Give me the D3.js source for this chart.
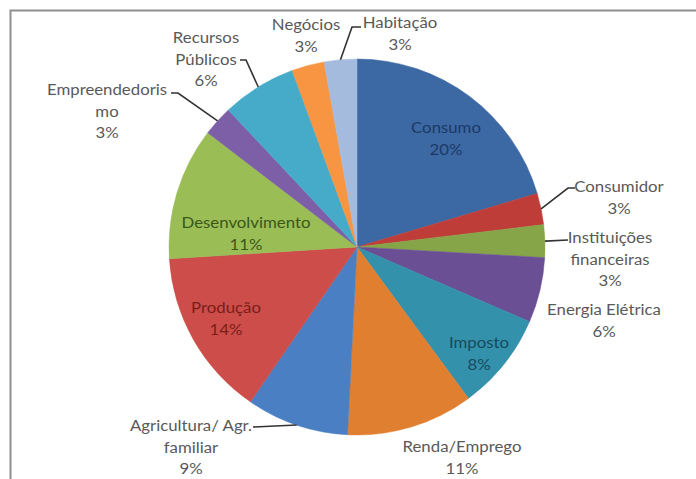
<!DOCTYPE html>
<html>
<head>
<meta charset="utf-8">
<script src="https://cdn.jsdelivr.net/npm/d3@7"></script>
<style>
  html, body { margin: 0; padding: 0; background: #fff; }
  svg { display: block; }
  text { font-family: Lato, "Open Sans", sans-serif; }
</style>
</head>
<body>
<svg id="chart" width="696" height="479"></svg>
<script>
// Subjects, in clockwise order from 12 o'clock
const categories = [
  "Consumo", "Consumidor", "Instituições financeiras", "Energia Elétrica",
  "Imposto", "Renda/Emprego", "Agricultura/ Agr. familiar", "Produção",
  "Desenvolvimento", "Empreendedorismo", "Recursos Públicos", "Negócios", "Habitação"
];
// Share of each subject (%)
const values = [20.4, 2.7, 2.8, 5.6, 8.4, 10.9, 8.8, 14.4, 11.4, 2.6, 6.4, 2.8, 2.8];

const sliceColors = [
  "#3c68a3", "#bf3d38", "#86a548", "#6b4f95", "#3391ab", "#e07f30", "#4b7fc4",
  "#cc4d49", "#9bbd56", "#7c5fa6", "#46abc8", "#f79543", "#a4bbdd"
];

// Label layout: text block position relative to the pie centre, line breaks,
// whether the label sits on the slice, and optional leader elbow.
const labelLayout = [
  { lines: ["Consumo"],                 dx:  89, dy: -119, inside: true, fill: "#1c3a66" },
  { lines: ["Consumidor"],              dx: 262, dy:  -60, elbow: [211, -59], end: 218 },
  { lines: ["Instituições", "financeiras"], dx: 253, dy: -9, elbow: [211, -7], end: 211 },
  { lines: ["Energia Elétrica"],        dx: 247, dy:   63 },
  { lines: ["Imposto"],                 dx: 122, dy:   96, inside: true, fill: "#174b5c" },
  { lines: ["Renda/Emprego"],           dx: 105, dy:  200 },
  { lines: ["Agricultura/ Agr.", "familiar"], dx: -166, dy: 179, elbow: [-104, 180], end: -104 },
  { lines: ["Produção"],                dx: -131, dy:   61, inside: true, fill: "#7a1e1b" },
  { lines: ["Desenvolvimento"],         dx: -111, dy:  -24, inside: true, fill: "#3a5716" },
  { lines: ["Empreendedoris", "mo"],    dx: -250, dy: -157, elbow: [-179, -154], end: -186 },
  { lines: ["Recursos", "Públicos"],    dx: -151, dy: -209, elbow: [-111, -187], end: -117 },
  { lines: ["Negócios"],                dx:  -51, dy: -222 },
  { lines: ["Habitação"],               dx:   43, dy: -224, elbow: [-5, -220], end: 4 }
];

const width = 696, height = 479;
const cx = 357, cy = 247, radius = 188;
const lineHeight = 21.5;
const fontSize = 15;
const stretch = 1.12;   // the labels are set slightly wide

const svg = d3.select("#chart");

// Chart area border (runs off the right and bottom edges)
svg.append("path")
  .attr("d", `M10.5,${height + 5} L10.5,10.5 L${width + 5},10.5`)
  .attr("fill", "none")
  .attr("stroke", "#8f8f8f")
  .attr("stroke-width", 2);

const total = d3.sum(values);
const data = categories.map((c, i) => ({ name: c, value: values[i], color: sliceColors[i], layout: labelLayout[i] }));

const pie = d3.pie().value(d => d.value).sort(null);
const arcs = pie(data);

const arc = d3.arc().innerRadius(0).outerRadius(radius);

const g = svg.append("g").attr("transform", `translate(${cx},${cy})`);

g.selectAll("path.slice")
  .data(arcs)
  .join("path")
  .attr("class", "slice")
  .attr("d", arc)
  .attr("fill", d => d.data.color)
  .attr("stroke", d => d.data.color)
  .attr("stroke-width", 0.5);

// Leader lines from the slice edge to the label
arcs.filter(d => d.data.layout.elbow).forEach(d => {
  const L = d.data.layout;
  const mid = (d.startAngle + d.endAngle) / 2;
  const p0 = [Math.sin(mid) * radius, -Math.cos(mid) * radius];
  g.append("polyline")
    .attr("points", [p0, L.elbow, [L.end, L.elbow[1]]].map(p => p.join(",")).join(" "))
    .attr("fill", "none")
    .attr("stroke", "#333")
    .attr("stroke-width", 1.6);
});

const pct = d3.format(".0%");

const labels = g.selectAll("g.label")
  .data(arcs)
  .join("g")
  .attr("class", "label")
  .attr("transform", d => `translate(${d.data.layout.dx},${d.data.layout.dy}) scale(${stretch},1)`);

labels.each(function(d) {
  const L = d.data.layout;
  const lines = L.lines.concat([pct(d.data.value / total)]);
  d3.select(this).selectAll("text")
    .data(lines)
    .join("text")
    .attr("x", 0)
    .attr("y", (t, i) => i * lineHeight)
    .attr("dy", "0.35em")
    .attr("text-anchor", "middle")
    .attr("font-size", fontSize)
    .attr("fill", L.inside ? L.fill : "#595959")
    .text(t => t);
});
</script>
</body>
</html>
